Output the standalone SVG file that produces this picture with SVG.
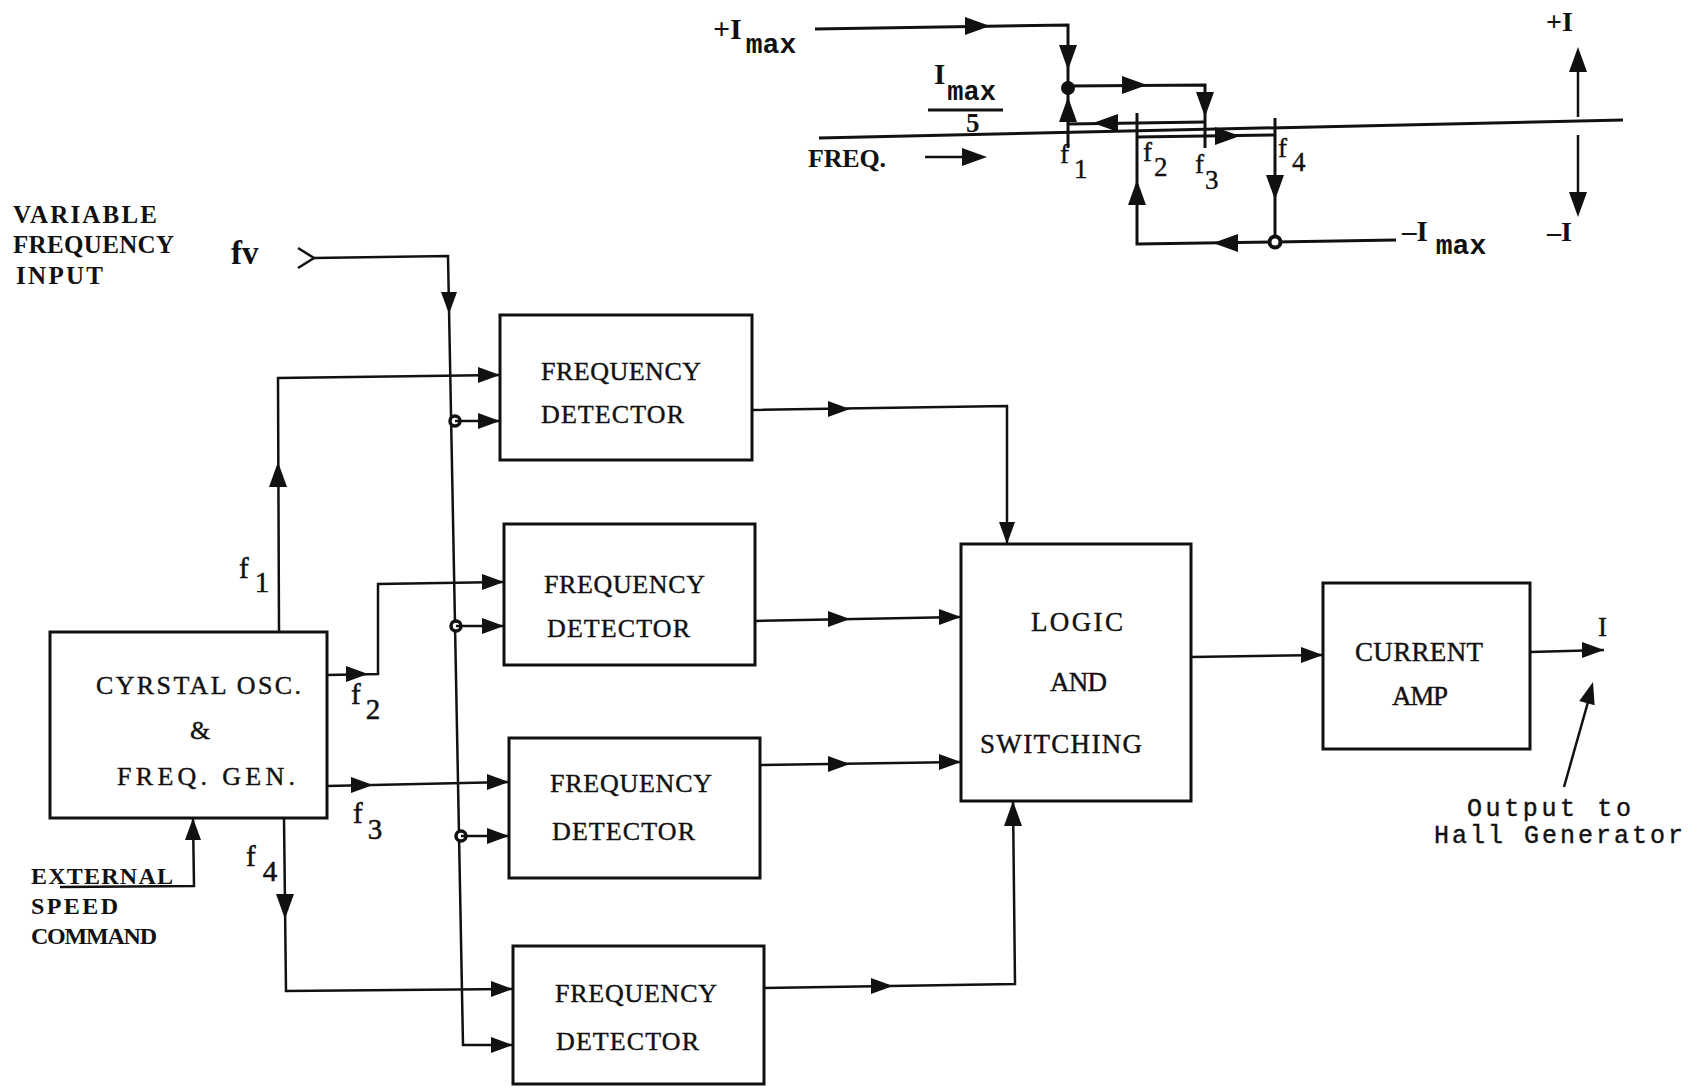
<svg xmlns="http://www.w3.org/2000/svg" xmlns:xlink="http://www.w3.org/1999/xlink" width="1697" height="1087" viewBox="0 0 1697 1087">
<style>
.ln{fill:none;stroke:#111;stroke-width:2.5;stroke-linejoin:miter}
.lt{fill:none;stroke:#111;stroke-width:3}
.bx{fill:none;stroke:#111;stroke-width:3}
.t{font-family:"Liberation Serif",serif;fill:#111;font-size:26px;stroke:#111;stroke-width:0.4}
.tf{font-family:"Liberation Serif",serif;fill:#111;font-size:29px;stroke:#111;stroke-width:0.5}
.tb{font-family:"Liberation Serif",serif;font-weight:bold;fill:#111;font-size:25px}
.tm{font-family:"Liberation Mono",monospace;fill:#111;font-size:25px;stroke:#111;stroke-width:0.4}
.sub{font-family:"Liberation Mono",monospace;font-weight:bold;font-size:28px}
.ah{fill:#111}
</style>
<defs>
<path id="a" class="ah" d="M0,0 L-22,-8 L-22,8 Z"/>
<path id="A" class="ah" d="M0,0 L-25,-9 L-25,9 Z"/>
</defs>
<rect width="1697" height="1087" fill="#fff"/>

<g id="current-graph">
  <text class="tb" x="713" y="39" style="font-size:30px">+I<tspan class="sub" dx="4" dy="14">max</tspan></text>
  <text class="tb" x="934" y="84" style="font-size:29px">I<tspan class="sub" dx="2" dy="16" style="font-size:27px">max</tspan></text>
  <line class="lt" x1="928" y1="110" x2="1003" y2="110"/>
  <text class="tb" x="966" y="132" style="font-size:27px">5</text>
  <text class="tb" x="808" y="167" style="font-size:26px" textLength="78">FREQ.</text>
  <line class="ln" x1="925" y1="157" x2="970" y2="157"/>
  <use xlink:href="#A" transform="translate(987,157)"/>
  <!-- axis -->
  <line class="lt" x1="819" y1="138" x2="1623" y2="120"/>
  <!-- +Imax path -->
  <polyline class="lt" points="815,29 1068,25 1068,148"/>
  <use xlink:href="#A" transform="translate(990,26)"/>
  <use xlink:href="#A" transform="translate(1068,70) rotate(90)"/>
  <circle cx="1068" cy="88" r="7" fill="#111"/>
  <polyline class="lt" points="1068,86 1205,85 1205,148"/>
  <use xlink:href="#A" transform="translate(1147,85)"/>
  <use xlink:href="#A" transform="translate(1205,117) rotate(90)"/>
  <line class="lt" x1="1205" y1="122" x2="1068" y2="124"/>
  <use xlink:href="#A" transform="translate(1093,123) rotate(180)"/>
  <use xlink:href="#A" transform="translate(1068,97) rotate(-90)"/>
  <!-- -Imax path -->
  <polyline class="lt" points="1137,113 1137,244 1275,242 1396,240"/>
  <use xlink:href="#A" transform="translate(1137,180) rotate(-90)"/>
  <use xlink:href="#A" transform="translate(1213,243) rotate(180)"/>
  <line class="lt" x1="1275" y1="118" x2="1275" y2="242"/>
  <use xlink:href="#A" transform="translate(1275,200) rotate(90)"/>
  <circle cx="1275" cy="242" r="5.5" fill="#fff" stroke="#111" stroke-width="4"/>
  <line class="lt" x1="1137" y1="137" x2="1275" y2="135"/>
  <use xlink:href="#A" transform="translate(1240,136)"/>
  <text class="t" x="1060" y="163" style="font-size:27px">f<tspan dx="5" dy="15">1</tspan></text>
  <text class="t" x="1143" y="161" style="font-size:27px">f<tspan dx="2" dy="15">2</tspan></text>
  <text class="t" x="1195" y="173" style="font-size:27px">f<tspan dx="1" dy="16">3</tspan></text>
  <text class="t" x="1278" y="157" style="font-size:27px">f<tspan dx="5" dy="14">4</tspan></text>
  <text class="tb" x="1402" y="241" style="font-size:29px">–I<tspan class="sub" dx="8" dy="13">max</tspan></text>
  <text class="tb" x="1546" y="31" style="font-size:28px">+I</text>
  <line class="ln" x1="1578" y1="117" x2="1578" y2="60"/>
  <use xlink:href="#A" transform="translate(1578,47) rotate(-90)"/>
  <line class="ln" x1="1578" y1="135" x2="1578" y2="205"/>
  <use xlink:href="#A" transform="translate(1578,217) rotate(90)"/>
  <text class="tb" x="1547" y="241" style="font-size:28px">–I</text>
</g>

<g id="label-variable-frequency-input">
  <text class="tb" x="13" y="223" textLength="144">VARIABLE</text>
  <text class="tb" x="13" y="253" textLength="161">FREQUENCY</text>
  <text class="tb" x="16" y="284" textLength="87">INPUT</text>
  <text class="tb" x="231" y="264" style="font-size:33px">fv</text>
</g>

<g id="label-external-speed-command">
  <text class="tb" x="31" y="884" style="font-size:24px" textLength="142">EXTERNAL</text>
  <text class="tb" x="31" y="914" style="font-size:24px" textLength="87">SPEED</text>
  <text class="tb" x="31" y="944" style="font-size:24px" textLength="126">COMMAND</text>
</g>

<g id="crystal-osc">
  <rect class="bx" x="50" y="632" width="277" height="186"/>
  <text class="t" x="96" y="694" textLength="205">CYRSTAL OSC.</text>
  <text class="t" x="190" y="739">&amp;</text>
  <text class="t" x="117" y="785" textLength="178">FREQ. GEN.</text>
</g>

<g id="freq-detector-1">
  <rect class="bx" x="500" y="315" width="252" height="145"/>
  <text class="t" x="541" y="380" textLength="160">FREQUENCY</text>
  <text class="t" x="541" y="423" textLength="143">DETECTOR</text>
</g>
<g id="freq-detector-2">
  <rect class="bx" x="504" y="524" width="251" height="141"/>
  <text class="t" x="544" y="593" textLength="161">FREQUENCY</text>
  <text class="t" x="547" y="637" textLength="143">DETECTOR</text>
</g>
<g id="freq-detector-3">
  <rect class="bx" x="509" y="738" width="251" height="140"/>
  <text class="t" x="550" y="792" textLength="162">FREQUENCY</text>
  <text class="t" x="552" y="840" textLength="143">DETECTOR</text>
</g>
<g id="freq-detector-4">
  <rect class="bx" x="513" y="946" width="251" height="138"/>
  <text class="t" x="555" y="1002" textLength="162">FREQUENCY</text>
  <text class="t" x="556" y="1050" textLength="143">DETECTOR</text>
</g>

<g id="logic-switching">
  <rect class="bx" x="961" y="544" width="230" height="257"/>
  <text class="t" x="1031" y="631" style="font-size:27px" textLength="92">LOGIC</text>
  <text class="t" x="1050" y="691" style="font-size:27px" textLength="57">AND</text>
  <text class="t" x="980" y="753" style="font-size:27px" textLength="162">SWITCHING</text>
</g>

<g id="current-amp">
  <rect class="bx" x="1323" y="583" width="207" height="166"/>
  <text class="t" x="1355" y="661" style="font-size:27px" textLength="128">CURRENT</text>
  <text class="t" x="1392" y="705" style="font-size:27px" textLength="56">AMP</text>
</g>

<g id="output-label">
  <text class="t" x="1598" y="636" style="font-size:27px">I</text>
  <text class="tm" x="1467" y="816" textLength="164">Output to</text>
  <text class="tm" x="1434" y="843" textLength="249">Hall Generator</text>
</g>

<g id="connectors">
  <!-- fv input and bus -->
  <polyline class="ln" points="298,248 314,258 298,268"/>
  <polyline class="ln" points="314,258 448,256 463,1045 513,1045"/>
  <use xlink:href="#a" transform="translate(449,314) rotate(90)"/>
  <use xlink:href="#a" transform="translate(513,1045)"/>
  <circle cx="455" cy="421" r="5" fill="#fff" stroke="#111" stroke-width="3.5"/>
  <line class="ln" x1="455" y1="421" x2="500" y2="421"/>
  <use xlink:href="#a" transform="translate(500,421)"/>
  <circle cx="456" cy="626" r="5" fill="#fff" stroke="#111" stroke-width="3.5"/>
  <line class="ln" x1="456" y1="626" x2="504" y2="626"/>
  <use xlink:href="#a" transform="translate(504,626)"/>
  <circle cx="461" cy="836" r="5" fill="#fff" stroke="#111" stroke-width="3.5"/>
  <line class="ln" x1="461" y1="836" x2="509" y2="836"/>
  <use xlink:href="#a" transform="translate(509,836)"/>

  <!-- f1 -->
  <polyline class="ln" points="279,632 278,378 500,375"/>
  <use xlink:href="#A" transform="translate(278,462) rotate(-90)"/>
  <use xlink:href="#a" transform="translate(500,375)"/>
  <text class="tf" x="239" y="578">f<tspan dx="6" dy="14">1</tspan></text>
  <!-- f2 -->
  <polyline class="ln" points="327,675 378,674 378,584 504,582"/>
  <use xlink:href="#a" transform="translate(368,674)"/>
  <use xlink:href="#a" transform="translate(504,582)"/>
  <text class="tf" x="351" y="704">f<tspan dx="5" dy="15">2</tspan></text>
  <!-- f3 -->
  <line class="ln" x1="327" y1="786" x2="509" y2="782"/>
  <use xlink:href="#a" transform="translate(373,785)"/>
  <use xlink:href="#a" transform="translate(509,782)"/>
  <text class="tf" x="353" y="823">f<tspan dx="5" dy="16">3</tspan></text>
  <!-- f4 -->
  <polyline class="ln" points="284,818 286,991 513,989"/>
  <use xlink:href="#A" transform="translate(285,919) rotate(90)"/>
  <use xlink:href="#a" transform="translate(513,989)"/>
  <text class="tf" x="246" y="866">f<tspan dx="7" dy="15">4</tspan></text>
  <!-- external speed command -->
  <polyline class="ln" points="60,887 194,886 193,818"/>
  <use xlink:href="#a" transform="translate(193,818) rotate(-90)"/>

  <!-- detector outputs -->
  <polyline class="ln" points="752,410 1007,406 1007,544"/>
  <use xlink:href="#a" transform="translate(850,409)"/>
  <use xlink:href="#a" transform="translate(1007,544) rotate(90)"/>
  <line class="ln" x1="755" y1="621" x2="961" y2="617"/>
  <use xlink:href="#a" transform="translate(850,619)"/>
  <use xlink:href="#a" transform="translate(961,617)"/>
  <line class="ln" x1="760" y1="765" x2="961" y2="762"/>
  <use xlink:href="#a" transform="translate(850,764)"/>
  <use xlink:href="#a" transform="translate(961,762)"/>
  <polyline class="ln" points="764,988 1015,984 1013,801"/>
  <use xlink:href="#a" transform="translate(893,986)"/>
  <use xlink:href="#A" transform="translate(1013,801) rotate(-90)"/>

  <!-- logic to amp to output -->
  <line class="ln" x1="1191" y1="657" x2="1323" y2="655"/>
  <use xlink:href="#a" transform="translate(1323,655)"/>
  <line class="ln" x1="1530" y1="652" x2="1604" y2="650"/>
  <use xlink:href="#a" transform="translate(1604,650)"/>
  <line class="ln" x1="1564" y1="787" x2="1590" y2="695"/>
  <use xlink:href="#a" transform="translate(1593,682) rotate(-74)"/>
</g>
</svg>
